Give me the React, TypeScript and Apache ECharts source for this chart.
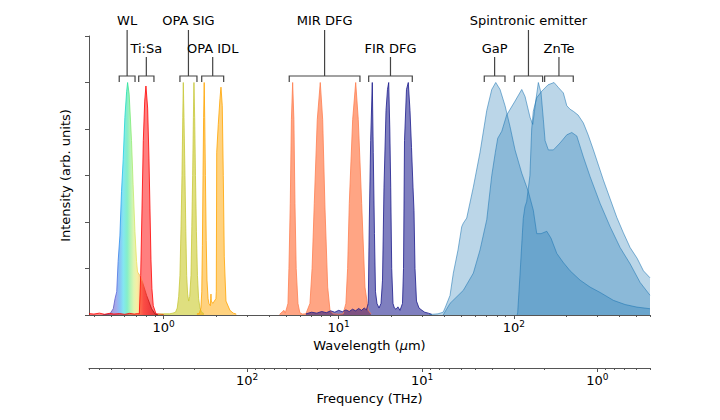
import { useEffect, useRef } from "react";
import * as echarts from "echarts";

// Wavelength range of the plot (µm) and the conversion ν[THz] = C / λ[µm]
const LAMBDA_MIN = 0.375;
const LAMBDA_MAX = 600;
const C_UM_THZ = 300;

const wavelengthMajorTicks = [1, 10, 100];
const wavelengthMinorTicks = [
  0.4, 0.5, 0.6, 0.7, 0.8, 0.9, 2, 3, 4, 5, 6, 7, 8, 9, 20, 30, 40, 50, 60, 70, 80, 90, 200, 300, 400, 500, 600,
];
const frequencyMajorTicks = [100, 10, 1];
const frequencyMinorTicks = [
  800, 700, 600, 500, 400, 300, 200, 90, 80, 70, 60, 50, 40, 30, 20, 9, 8, 7, 6, 5, 4, 3, 2, 0.9, 0.8, 0.7, 0.6, 0.5,
];

// Normalised spectra: [wavelength (µm), intensity]
const whiteLight: [number, number][] = [
  [0.45, 0], [0.47, 0.002], [0.48, 0.003], [0.494, 0.005], [0.516, 0.027], [0.528, 0.07], [0.54, 0.1],
  [0.55, 0.23], [0.563, 0.34], [0.575, 0.53], [0.588, 0.67], [0.601, 0.85], [0.615, 0.96], [0.623, 1.0],
  [0.636, 0.95], [0.656, 0.75], [0.67, 0.56], [0.686, 0.36], [0.701, 0.23], [0.71, 0.185], [0.732, 0.17],
  [0.759, 0.14], [0.8, 0.084], [0.854, 0.027], [0.892, 0.005], [0.93, 0],
];

const tiSapphire: [number, number][] = [
  [0.375, 0.006], [0.4, 0.004], [0.43, 0.008], [0.46, 0.003], [0.49, 0.007], [0.52, 0.004], [0.56, 0.006],
  [0.6, 0.003], [0.64, 0.007], [0.68, 0.004], [0.71, 0.006], [0.727, 0.005], [0.74, 0.17], [0.753, 0.46],
  [0.766, 0.75], [0.78, 0.92], [0.793, 0.985], [0.811, 0.89], [0.825, 0.675], [0.836, 0.46], [0.847, 0.24],
  [0.858, 0.113], [0.873, 0.04], [0.905, 0.005], [0.95, 0.004], [1.0, 0.002],
];

const opaSignal: [number, number][] = [
  [0.93, 0.003], [1.0, 0.005], [1.08, 0.005], [1.13, 0.008], [1.17, 0.012], [1.197, 0.03], [1.22, 0.08],
  [1.24, 0.17], [1.258, 0.38], [1.274, 0.6], [1.287, 0.85], [1.296, 1.0], [1.308, 0.85], [1.325, 0.6],
  [1.34, 0.36], [1.355, 0.17], [1.372, 0.09], [1.391, 0.06], [1.41, 0.08], [1.434, 0.17], [1.45, 0.38],
  [1.466, 0.6], [1.48, 0.85], [1.491, 1.0], [1.505, 0.85], [1.521, 0.6], [1.54, 0.36], [1.561, 0.17],
  [1.585, 0.07], [1.614, 0.03], [1.65, 0.012], [1.7, 0.006],
];

const opaIdler: [number, number][] = [
  [1.55, 0.005], [1.6, 0.006], [1.634, 0.03], [1.652, 0.1], [1.666, 0.3], [1.68, 0.6], [1.693, 0.85],
  [1.706, 1.0], [1.718, 0.85], [1.733, 0.6], [1.752, 0.32], [1.77, 0.15], [1.795, 0.07], [1.815, 0.05],
  [1.85, 0.04], [1.858, 0.07], [1.865, 0.09], [1.873, 0.06], [1.91, 0.05], [1.95, 0.06], [1.99, 0.07],
  [2.0, 0.1], [2.011, 0.7], [2.053, 0.82], [2.099, 0.93], [2.127, 0.98], [2.164, 0.9], [2.193, 0.6],
  [2.222, 0.25], [2.272, 0.06], [2.394, 0.02], [2.5, 0.008], [2.6, 0.004],
];

const mirDfg: [number, number][] = [
  [4.6, 0.003], [4.87, 0.02], [4.95, 0.008], [5.05, 0.03], [5.134, 0.05], [5.2, 0.2], [5.292, 0.48],
  [5.37, 0.84], [5.46, 1.0], [5.55, 0.84], [5.628, 0.48], [5.72, 0.2], [5.855, 0.05], [6.0, 0.01],
  [6.2, 0.004], [6.5, 0.005], [6.856, 0.05], [7.05, 0.2], [7.256, 0.48], [7.548, 0.84], [7.851, 1.0],
  [8.103, 0.84], [8.353, 0.46], [8.655, 0.12], [8.921, 0.02], [9.3, 0.005], [10.0, 0.003], [10.6, 0.005],
  [11.0, 0.05], [11.25, 0.2], [11.5, 0.48], [12.02, 0.84], [12.51, 1.0], [12.94, 0.84], [13.53, 0.48],
  [14.13, 0.12], [14.76, 0.02], [15.3, 0.005],
];

const firDfg: [number, number][] = [
  [6.5, 0.005], [7.0, 0.012], [7.5, 0.008], [8.0, 0.015], [8.5, 0.01], [9.0, 0.018], [9.5, 0.012],
  [10.0, 0.02], [10.5, 0.014], [11.0, 0.022], [11.5, 0.015], [12.0, 0.025], [12.5, 0.018], [13.0, 0.028],
  [13.5, 0.02], [14.0, 0.03], [14.4, 0.022], [14.76, 0.05], [14.96, 0.4], [15.23, 0.75], [15.56, 1.0],
  [15.76, 0.7], [16.01, 0.35], [16.23, 0.1], [16.55, 0.05], [17.0, 0.03], [17.45, 0.05], [17.8, 0.15],
  [18.15, 0.55], [18.64, 0.88], [19.0, 0.97], [19.31, 1.0], [19.59, 0.8], [19.83, 0.55], [20.09, 0.2],
  [20.43, 0.05], [20.8, 0.03], [21.26, 0.025], [21.8, 0.035], [22.4, 0.02], [23.15, 0.05], [23.46, 0.2],
  [23.77, 0.75], [24.4, 0.97], [24.98, 1.0], [25.55, 0.88], [26.06, 0.72], [26.58, 0.55], [26.93, 0.45],
  [27.29, 0.2], [27.83, 0.06], [28.77, 0.03], [29.92, 0.02], [31.0, 0.012], [32.5, 0.008], [34.0, 0.003],
];

const gapEmitter: [number, number][] = [
  [33, 0.002], [36.9, 0.005], [39.5, 0.012], [40.5, 0.03], [43.25, 0.084], [45.17, 0.18], [48.05, 0.28],
  [50.45, 0.38], [51.52, 0.395], [53.87, 0.417], [58.76, 0.55], [64.19, 0.7], [70.11, 0.88], [74.88, 0.97],
  [78.9, 1.0], [83.49, 0.97], [89.18, 0.9], [95.25, 0.81], [101.7, 0.71], [111.1, 0.61], [121.2, 0.53],
  [129.4, 0.45], [135.3, 0.35], [143.2, 0.35], [154.4, 0.36], [163.3, 0.33], [176.1, 0.265], [191.3, 0.227],
  [209.8, 0.19], [239.3, 0.15], [272.9, 0.12], [311.3, 0.097], [370.8, 0.063], [432.5, 0.045],
  [504.6, 0.034], [600, 0.027],
];

const spintronicEmitter: [number, number][] = [
  [39.5, 0], [43.25, 0.05], [51.52, 0.106], [58.76, 0.18], [64.19, 0.28], [70.11, 0.41], [74.88, 0.6],
  [78.5, 0.7], [81.0, 0.76], [85.4, 0.79], [91.1, 0.86], [101.7, 0.92], [111.1, 0.97], [116.0, 0.94],
  [123.9, 0.85], [128.4, 0.82], [134.1, 0.93], [138.2, 1.0], [143.2, 0.955], [147.6, 0.84], [151.0, 0.75],
  [157.6, 0.71], [168.4, 0.71], [183.9, 0.74], [200.9, 0.775], [214.5, 0.785], [229.1, 0.77],
  [249.8, 0.68], [272.9, 0.595], [311.3, 0.48], [355.0, 0.38], [405.0, 0.29], [461.9, 0.22],
  [526.9, 0.14], [600, 0.085],
];

const znteEmitter: [number, number][] = [
  [104.5, 0], [105.3, 0.01], [108.5, 0.17], [113.3, 0.415], [115.9, 0.466], [118.5, 0.487], [123.7, 0.6],
  [126.6, 0.8], [129.3, 0.876], [135.1, 0.934], [144.3, 0.962], [157.0, 0.99], [169.9, 1.0], [179.1, 0.98],
  [192.0, 0.955], [200.9, 0.9], [209.8, 0.885], [219.1, 0.876], [233.1, 0.86], [249.8, 0.826],
  [265.9, 0.775], [285.0, 0.71], [325.1, 0.58], [355.0, 0.5], [387.7, 0.42], [421.3, 0.356],
  [461.9, 0.29], [506.6, 0.244], [550.4, 0.19], [600, 0.16],
];

// Source brackets drawn above the spectra (wavelength span in µm)
const brackets = [
  { label: "WL", from: 0.558, to: 0.687, high: true },
  { label: "Ti:Sa", from: 0.721, to: 0.881, high: false },
  { label: "OPA SIG", from: 1.24, to: 1.551, high: true },
  { label: "OPA IDL", from: 1.651, to: 2.204, high: false },
  { label: "MIR DFG", from: 5.22, to: 13.23, high: true },
  { label: "FIR DFG", from: 14.84, to: 26.33, high: false },
  { label: "GaP", from: 67.85, to: 89.1, high: false },
  { label: "Spintronic emitter", from: 100.7, to: 146.2, high: true },
  { label: "ZnTe", from: 150.1, to: 218.7, high: false },
];

const FONT = "DejaVu Sans";
const AXIS_COLOR = "#555";

const rainbow = (opacity: number) => ({
  type: "linear",
  x: 0,
  y: 0,
  x2: 1,
  y2: 0,
  colorStops: [
    { offset: 0.0, color: `rgba(80,60,110,${opacity})` },
    { offset: 0.14, color: `rgba(100,80,170,${opacity})` },
    { offset: 0.24, color: `rgba(90,100,220,${opacity})` },
    { offset: 0.31, color: `rgba(40,150,240,${opacity})` },
    { offset: 0.37, color: `rgba(30,210,230,${opacity})` },
    { offset: 0.44, color: `rgba(30,225,160,${opacity})` },
    { offset: 0.5, color: `rgba(120,235,120,${opacity})` },
    { offset: 0.56, color: `rgba(200,235,110,${opacity})` },
    { offset: 0.62, color: `rgba(240,225,90,${opacity})` },
    { offset: 0.68, color: `rgba(245,175,70,${opacity})` },
    { offset: 0.74, color: `rgba(240,70,40,${opacity})` },
    { offset: 0.84, color: `rgba(200,20,20,${opacity})` },
    { offset: 1.0, color: `rgba(110,0,0,${opacity})` },
  ],
});

const areaSeries = (name: string, data: [number, number][], line: any, fill: any, fillOpacity: number) => ({
  name,
  type: "line",
  data,
  showSymbol: false,
  symbol: "none",
  lineStyle: { color: line, width: 0.8 },
  areaStyle: { color: fill, opacity: fillOpacity },
  silent: true,
});

const superscriptLabel = (v: number) => `{b|10}{s|${Math.round(Math.log10(v))}}`;
const labelRich = {
  b: { fontSize: 13, fontFamily: FONT, color: "#000" },
  s: { fontSize: 9, fontFamily: FONT, color: "#000", padding: [0, 0, 8, 0] },
};

export default function App() {
  const ref = useRef<HTMLDivElement>(null);

  useEffect(() => {
    document.body.style.margin = "0";
    if (!ref.current) return;
    const chart = echarts.init(ref.current, undefined, { renderer: "svg" });

    const baseLog = { type: "log", logBase: 10, splitLine: { show: false }, minorTick: { show: false } };

    const option: any = {
      animation: false,
      textStyle: { fontFamily: FONT },
      grid: { left: 89, right: 70, top: 36, bottom: 105 },
      xAxis: [
        {
          ...baseLog,
          min: LAMBDA_MIN,
          max: LAMBDA_MAX,
          position: "bottom",
          axisLine: { show: true, lineStyle: { color: AXIS_COLOR, width: 1 } },
          axisTick: { show: true, customValues: wavelengthMajorTicks, length: 4, lineStyle: { color: AXIS_COLOR } },
          axisLabel: { customValues: wavelengthMajorTicks, formatter: superscriptLabel, rich: labelRich, margin: 4 },
          name: "{t|Wavelength (}{i|μ}{t|m)}",
          nameLocation: "middle",
          nameGap: 20,
          nameTextStyle: {
            rich: {
              t: { fontSize: 13, fontFamily: FONT, color: "#000" },
              i: { fontSize: 13, fontFamily: FONT, color: "#000", fontStyle: "italic" },
            },
          },
        },
        {
          ...baseLog,
          min: LAMBDA_MIN,
          max: LAMBDA_MAX,
          position: "bottom",
          axisLine: { show: false },
          axisTick: { show: true, customValues: wavelengthMinorTicks, length: 2, lineStyle: { color: AXIS_COLOR } },
          axisLabel: { show: false },
        },
        {
          ...baseLog,
          min: C_UM_THZ / LAMBDA_MAX,
          max: C_UM_THZ / LAMBDA_MIN,
          inverse: true,
          position: "bottom",
          offset: 53,
          axisLine: { show: true, lineStyle: { color: AXIS_COLOR, width: 1 } },
          axisTick: { show: true, customValues: frequencyMajorTicks, length: 4, lineStyle: { color: AXIS_COLOR } },
          axisLabel: { customValues: frequencyMajorTicks, formatter: superscriptLabel, rich: labelRich, margin: 4 },
          name: "Frequency (THz)",
          nameLocation: "middle",
          nameGap: 20,
          nameTextStyle: { fontSize: 13, color: "#000" },
        },
        {
          ...baseLog,
          min: C_UM_THZ / LAMBDA_MAX,
          max: C_UM_THZ / LAMBDA_MIN,
          inverse: true,
          position: "bottom",
          offset: 53,
          axisLine: { show: false },
          axisTick: { show: true, customValues: frequencyMinorTicks, length: 2, lineStyle: { color: AXIS_COLOR } },
          axisLabel: { show: false },
        },
      ],
      yAxis: {
        type: "value",
        min: 0,
        max: 1.2,
        interval: 0.2,
        axisLine: { show: true, lineStyle: { color: AXIS_COLOR, width: 1 } },
        axisTick: { show: true, length: 4, lineStyle: { color: AXIS_COLOR } },
        axisLabel: { show: false },
        splitLine: { show: false },
        name: "Intensity (arb. units)",
        nameLocation: "middle",
        nameGap: 17,
        nameTextStyle: { fontSize: 13, color: "#000" },
      },
      series: [
        areaSeries("WL", whiteLight, rainbow(1), rainbow(1), 0.55),
        areaSeries("Ti:Sa", tiSapphire, "#ff0000", "#ff0000", 0.5),
        areaSeries("OPA SIG", opaSignal, "#c8c83a", "#bfbf00", 0.5),
        areaSeries("OPA IDL", opaIdler, "#ffa500", "#ffa500", 0.5),
        areaSeries("MIR DFG", mirDfg, "#ff7f50", "#ff7f50", 0.7),
        areaSeries("FIR DFG", firDfg, "#1a1a8c", "#000080", 0.5),
        areaSeries("GaP", gapEmitter, "rgba(31,119,180,0.7)", "#1f77b4", 0.3),
        areaSeries("Spintronic emitter", spintronicEmitter, "rgba(31,119,180,0.7)", "#1f77b4", 0.3),
        areaSeries("ZnTe", znteEmitter, "rgba(31,119,180,0.7)", "#1f77b4", 0.3),
      ],
    };

    chart.setOption(option);

    // Brackets and their labels, placed through the wavelength axis
    const px = (v: number) => chart.convertToPixel({ xAxisIndex: 0 }, v) as number;
    const barY = 76;
    const legY = 82;
    const graphic: any[] = [];
    brackets.forEach((b) => {
      const x1 = px(b.from);
      const x2 = px(b.to);
      const xc = (x1 + x2) / 2;
      const stemTop = b.high ? 30 : 57;
      const textY = b.high ? 20.5 : 48;
      graphic.push({
        type: "polyline",
        silent: true,
        shape: { points: [[x1, legY], [x1, barY], [x2, barY], [x2, legY]] },
        style: { stroke: "#444", lineWidth: 1.2, fill: null },
      });
      graphic.push({
        type: "line",
        silent: true,
        shape: { x1: xc, y1: barY, x2: xc, y2: stemTop },
        style: { stroke: "#444", lineWidth: 1.2 },
      });
      graphic.push({
        type: "text",
        silent: true,
        x: xc,
        y: textY,
        style: {
          text: b.label,
          fontSize: 13,
          fontFamily: FONT,
          fill: "#000",
          align: "center",
          verticalAlign: "middle",
        },
      });
    });
    chart.setOption({ graphic });

    return () => chart.dispose();
  }, []);

  return <div ref={ref} style={{ width: 720, height: 420 }} />;
}
